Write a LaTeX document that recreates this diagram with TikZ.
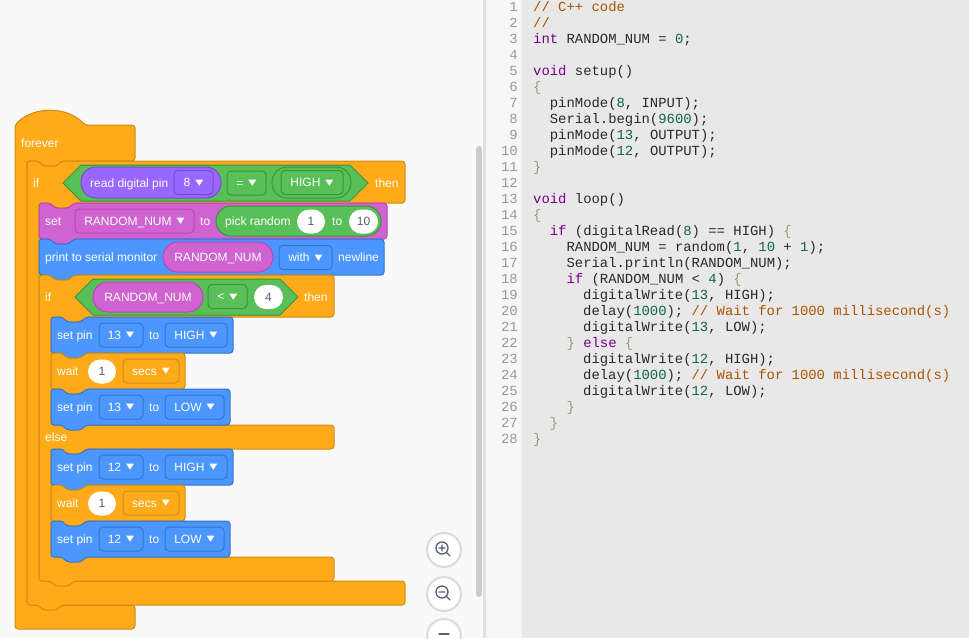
\documentclass[tikz,border=0pt]{standalone}
\usepackage{fontspec}
\setmainfont{Liberation Sans}
\newfontfamily\codefont{Liberation Mono}
\newfontfamily\symfont{DejaVu Sans}
\usepackage{xcolor}
\usepackage{graphicx}

\definecolor{ctrl}{HTML}{FFAB19}
\definecolor{ctrlD}{HTML}{CF8B17}
\definecolor{outp}{HTML}{4C97FF}
\definecolor{outpD}{HTML}{3373CC}
\definecolor{vari}{HTML}{CF63CF}
\definecolor{variD}{HTML}{BD42BD}
\definecolor{mathg}{HTML}{59C059}
\definecolor{mathgD}{HTML}{389438}
\definecolor{inpt}{HTML}{9966FF}
\definecolor{inptD}{HTML}{774DCB}
\definecolor{numtxt}{HTML}{575E75}
\definecolor{cdcmt}{HTML}{AA5500}
\definecolor{cdkwd}{HTML}{770088}
\definecolor{cdnum}{HTML}{116644}
\definecolor{cdbrk}{HTML}{999977}
\definecolor{cdtxt}{HTML}{2A2A2A}
\definecolor{lnum}{HTML}{999999}

\newcommand{\cdkw}[1]{\textcolor{cdkwd}{#1}}
\newcommand{\cdcm}[1]{\textcolor{cdcmt}{#1}}
\newcommand{\cdnm}[1]{\textcolor{cdnum}{#1}}
\newcommand{\cdbr}[1]{\textcolor{cdbrk}{#1}}
\newcommand{\dd}{\hspace{5pt}\raisebox{0.5pt}{\scalebox{1.6}[1.25]{\symfont\fontsize{10}{10}\selectfont ▾}}}
\newcommand{\blkfont}{\fontsize{12}{14}\selectfont}
\newcommand{\codefnt}{\codefont\fontsize{13.9}{16}\selectfont\frenchspacing}

% stack block: fill, border, x0, y0, x1, y1 (notch on top, tab below)
\newcommand{\stackblk}[6]{\draw[blk, fill=#1, draw=#2] (#3,#4) -- ({#3+11},#4) -- ({#3+16},{#4+5}) -- ({#3+30},{#4+5}) -- ({#3+35},#4) -- (#5,#4) -- (#5,#6) -- ({#3+35},#6) -- ({#3+30},{#6+5}) -- ({#3+16},{#6+5}) -- ({#3+11},#6) -- (#3,#6) -- cycle;}

\tikzset{
  blk/.style={line width=1pt, rounded corners=3pt},
  hexb/.style={line width=1pt, fill=mathg, draw=mathgD},
  lbl/.style={anchor=west, inner sep=0pt, text=white, font=\blkfont, text height=8.6pt, text depth=0pt},
  dd/.style={rounded corners=4pt, line width=1pt, minimum height=24pt, inner sep=0pt, text=white, font=\blkfont, text height=8.6pt, text depth=0pt},
  numfield/.style={fill=white, rounded corners=12pt, minimum height=24pt, inner sep=0pt, text=numtxt, font=\blkfont, text height=8.6pt, text depth=0pt},
  code/.style={anchor=base west, inner sep=0pt, text=cdtxt, font=\codefnt},
  lnum/.style={anchor=base east, inner sep=0pt, text=lnum, font=\codefnt},
  zoombtn/.style={fill=white, draw=black!14, line width=2pt},
  zoomicon/.style={draw=numtxt, line width=1.3pt, line cap=round}
}

\begin{document}
\begin{tikzpicture}[x=1pt,y=1pt,yscale=-1,xscale=1]

\useasboundingbox (0,0) rectangle (969,638);
\clip (0,0) rectangle (969,638);

% panels
\fill[black!2.5] (0,0) rectangle (484,638);
\fill[black!12] (483,0) rectangle (486,638);
\fill[black!3] (486,0) rectangle (522,638);
\fill[black!9] (522,0) rectangle (969,638);

% forever
\draw[blk, fill=ctrl, draw=ctrlD] (15,629) -- (15,125) .. controls (33,106) and (67,106) .. (85,125) -- (135,125) -- (135,161) -- (62,161) -- (57,166) -- (43,166) -- (38,161) -- (27,161) -- (27,605) -- (135,605) -- (135,629) -- cycle;
% outer if
\draw[blk, fill=ctrl, draw=ctrlD] (27,161) -- (38,161) -- (43,166) -- (57,166) -- (62,161) -- (405,161) -- (405,203) -- (74,203) -- (69,208) -- (55,208) -- (50,203) -- (39,203) -- (39,581) -- (405,581) -- (405,605) -- (62,605) -- (57,610) -- (43,610) -- (38,605) -- (27,605) -- cycle;

\stackblk{vari}{variD}{39}{203}{387}{239}
\stackblk{outp}{outpD}{39}{239}{384}{275}

% inner if / else
\draw[blk, fill=ctrl, draw=ctrlD] (39,275) -- (50,275) -- (55,280) -- (69,280) -- (74,275) -- (334,275) -- (334,317) -- (86,317) -- (81,322) -- (67,322) -- (62,317) -- (51,317) -- (51,425) -- (334,425) -- (334,449) -- (86,449) -- (81,454) -- (67,454) -- (62,449) -- (51,449) -- (51,557) -- (334,557) -- (334,581) -- (74,581) -- (69,586) -- (55,586) -- (50,581) -- (39,581) -- cycle;

\stackblk{outp}{outpD}{51}{317}{233}{353}
\stackblk{ctrl}{ctrlD}{51}{353}{185}{389}
\stackblk{outp}{outpD}{51}{389}{230}{425}
\stackblk{outp}{outpD}{51}{449}{233}{485}
\stackblk{ctrl}{ctrlD}{51}{485}{185}{521}
\stackblk{outp}{outpD}{51}{521}{230}{557}

% boolean inputs
\draw[hexb] (63,183) -- (81,165) -- (350,165) -- (368,183) -- (350,201) -- (81,201) -- cycle;
\draw[hexb] (75,297) -- (93,279) -- (280,279) -- (298,297) -- (280,315) -- (93,315) -- cycle;

% reporters
\draw[blk, rounded corners=15pt, fill=inpt, draw=inptD] (81,167) rectangle (221,198);
\draw[blk, rounded corners=15pt, fill=mathg, draw=mathgD] (272,167) rectangle (351,198);
\draw[blk, rounded corners=15pt, fill=mathg, draw=mathgD] (216,206) rectangle (381,236);
\draw[blk, rounded corners=15pt, fill=vari, draw=variD] (163,242) rectangle (273,272);
\draw[blk, rounded corners=15pt, fill=vari, draw=variD] (93,282) rectangle (203,312);

% labels
\node[lbl] (lForever) at (21,143) {forever};
\node[lbl] (lIfA) at (33,183) {if};
\node[lbl] (lRead) at (90,183) {read digital pin};
\node[lbl] (lThenA) at (375,183) {then};
\node[lbl] (lSet) at (45,221) {set};
\node[lbl] (lToA) at (200,221) {to};
\node[lbl] (lPick) at (225,221) {pick random};
\node[lbl] (lToB) at (332,221) {to};
\node[lbl] (lPrint) at (45,257) {print to serial monitor};
\node[lbl, anchor=center] (lVarA) at (218,257) {RANDOM\_NUM};
\node[lbl] (lNewline) at (338,257) {newline};
\node[lbl] (lIfB) at (45,297) {if};
\node[lbl, anchor=center] (lVarB) at (148,297) {RANDOM\_NUM};
\node[lbl] (lThenB) at (304,297) {then};
\node[lbl] (lPinA) at (57,335) {set pin};
\node[lbl] (lToC) at (149,335) {to};
\node[lbl] (lWaitA) at (57,371) {wait};
\node[lbl] (lPinB) at (57,407) {set pin};
\node[lbl] (lToD) at (149,407) {to};
\node[lbl] (lElse) at (45,437) {else};
\node[lbl] (lPinC) at (57,467) {set pin};
\node[lbl] (lToE) at (149,467) {to};
\node[lbl] (lWaitB) at (57,503) {wait};
\node[lbl] (lPinD) at (57,539) {set pin};
\node[lbl] (lToF) at (149,539) {to};

% dropdowns
\node[dd, fill=inpt, draw=inptD, minimum width=39pt] (ddRead) at (193.5,182.5) {8\dd};
\node[dd, fill=mathg, draw=mathgD, minimum width=39pt] (ddEq) at (246.5,183) {=\dd};
\node[dd, fill=mathg, draw=mathgD, minimum width=62pt] (ddHigh) at (312,182.5) {HIGH\dd};
\node[dd, fill=vari, draw=variD, minimum width=119pt] (ddVar) at (134.5,221) {RANDOM\_NUM\dd};
\node[dd, fill=outp, draw=outpD, minimum width=53pt] (ddWith) at (305.5,257.5) {with\dd};
\node[dd, fill=mathg, draw=mathgD, minimum width=39pt] (ddLess) at (227.5,296.5) {<\dd};
\node[dd, fill=outp, draw=outpD, minimum width=44pt] (ddPinA) at (121,335) {13\dd};
\node[dd, fill=outp, draw=outpD, minimum width=62pt] (ddLvlA) at (196,335) {HIGH\dd};
\node[dd, fill=ctrl, draw=ctrlD, minimum width=56pt] (ddSecA) at (151,371) {secs\dd};
\node[dd, fill=outp, draw=outpD, minimum width=44pt] (ddPinB) at (121,407) {13\dd};
\node[dd, fill=outp, draw=outpD, minimum width=59pt] (ddLvlB) at (194.5,407) {LOW\dd};
\node[dd, fill=outp, draw=outpD, minimum width=44pt] (ddPinC) at (121,467) {12\dd};
\node[dd, fill=outp, draw=outpD, minimum width=62pt] (ddLvlC) at (196,467) {HIGH\dd};
\node[dd, fill=ctrl, draw=ctrlD, minimum width=56pt] (ddSecB) at (151,503) {secs\dd};
\node[dd, fill=outp, draw=outpD, minimum width=44pt] (ddPinD) at (121,539) {12\dd};
\node[dd, fill=outp, draw=outpD, minimum width=59pt] (ddLvlD) at (194.5,539) {LOW\dd};

% number fields
\node[numfield, minimum width=28pt] (nLow) at (311,221.5) {1};
\node[numfield, minimum width=29pt] (nHigh) at (363.5,221.5) {10};
\node[numfield, minimum width=29pt] (nCmp) at (268.5,297) {4};
\node[numfield, minimum width=28pt] (nWaitA) at (102,371.5) {1};
\node[numfield, minimum width=28pt] (nWaitB) at (102,503.5) {1};

% scrollbar and zoom buttons
\fill[black!20, rounded corners=3pt] (476,146) rectangle (482,597);
\draw[zoombtn] (444,550) circle (17);
\draw[zoomicon] (442,548) circle (6) (446.5,552.5) -- (450,556) (439,548) -- (445,548) (442,545) -- (442,551);
\draw[zoombtn] (444,594) circle (17);
\draw[zoomicon] (442,592) circle (6) (446.5,596.5) -- (450,600) (439,592) -- (445,592);
\draw[zoombtn] (444,636) circle (17);
\draw[zoomicon] (439,634) -- (449,634);

% line numbers
\foreach \n in {1,...,28}
  \node[lnum] (ln\n) at (518,{11.5+16*(\n-1)}) {\n};

% code
\node[code] (c1) at (533,11.5) {\cdcm{// C++ code}};
\node[code] (c2) at (533,27.5) {\cdcm{//}};
\node[code] (c3) at (533,43.5) {\cdkw{int} RANDOM\_NUM = \cdnm{0};};
\node[code] (c5) at (533,75.5) {\cdkw{void} setup()};
\node[code] (c6) at (533,91.5) {\cdbr{\{}};
\node[code] (c7) at (549.7,107.5) {pinMode(\cdnm{8}, INPUT);};
\node[code] (c8) at (549.7,123.5) {Serial.begin(\cdnm{9600});};
\node[code] (c9) at (549.7,139.5) {pinMode(\cdnm{13}, OUTPUT);};
\node[code] (c10) at (549.7,155.5) {pinMode(\cdnm{12}, OUTPUT);};
\node[code] (c11) at (533,171.5) {\cdbr{\}}};
\node[code] (c13) at (533,203.5) {\cdkw{void} loop()};
\node[code] (c14) at (533,219.5) {\cdbr{\{}};
\node[code] (c15) at (549.7,235.5) {\cdkw{if} (digitalRead(\cdnm{8}) == HIGH) \cdbr{\{}};
\node[code] (c16) at (566.4,251.5) {RANDOM\_NUM = random(\cdnm{1}, \cdnm{10} + \cdnm{1});};
\node[code] (c17) at (566.4,267.5) {Serial.println(RANDOM\_NUM);};
\node[code] (c18) at (566.4,283.5) {\cdkw{if} (RANDOM\_NUM < \cdnm{4}) \cdbr{\{}};
\node[code] (c19) at (583,299.5) {digitalWrite(\cdnm{13}, HIGH);};
\node[code] (c20) at (583,315.5) {delay(\cdnm{1000}); \cdcm{// Wait for 1000 millisecond(s)}};
\node[code] (c21) at (583,331.5) {digitalWrite(\cdnm{13}, LOW);};
\node[code] (c22) at (566.4,347.5) {\cdbr{\}} \cdkw{else} \cdbr{\{}};
\node[code] (c23) at (583,363.5) {digitalWrite(\cdnm{12}, HIGH);};
\node[code] (c24) at (583,379.5) {delay(\cdnm{1000}); \cdcm{// Wait for 1000 millisecond(s)}};
\node[code] (c25) at (583,395.5) {digitalWrite(\cdnm{12}, LOW);};
\node[code] (c26) at (566.4,411.5) {\cdbr{\}}};
\node[code] (c27) at (549.7,427.5) {\cdbr{\}}};
\node[code] (c28) at (533,443.5) {\cdbr{\}}};

\end{tikzpicture}
\end{document}
